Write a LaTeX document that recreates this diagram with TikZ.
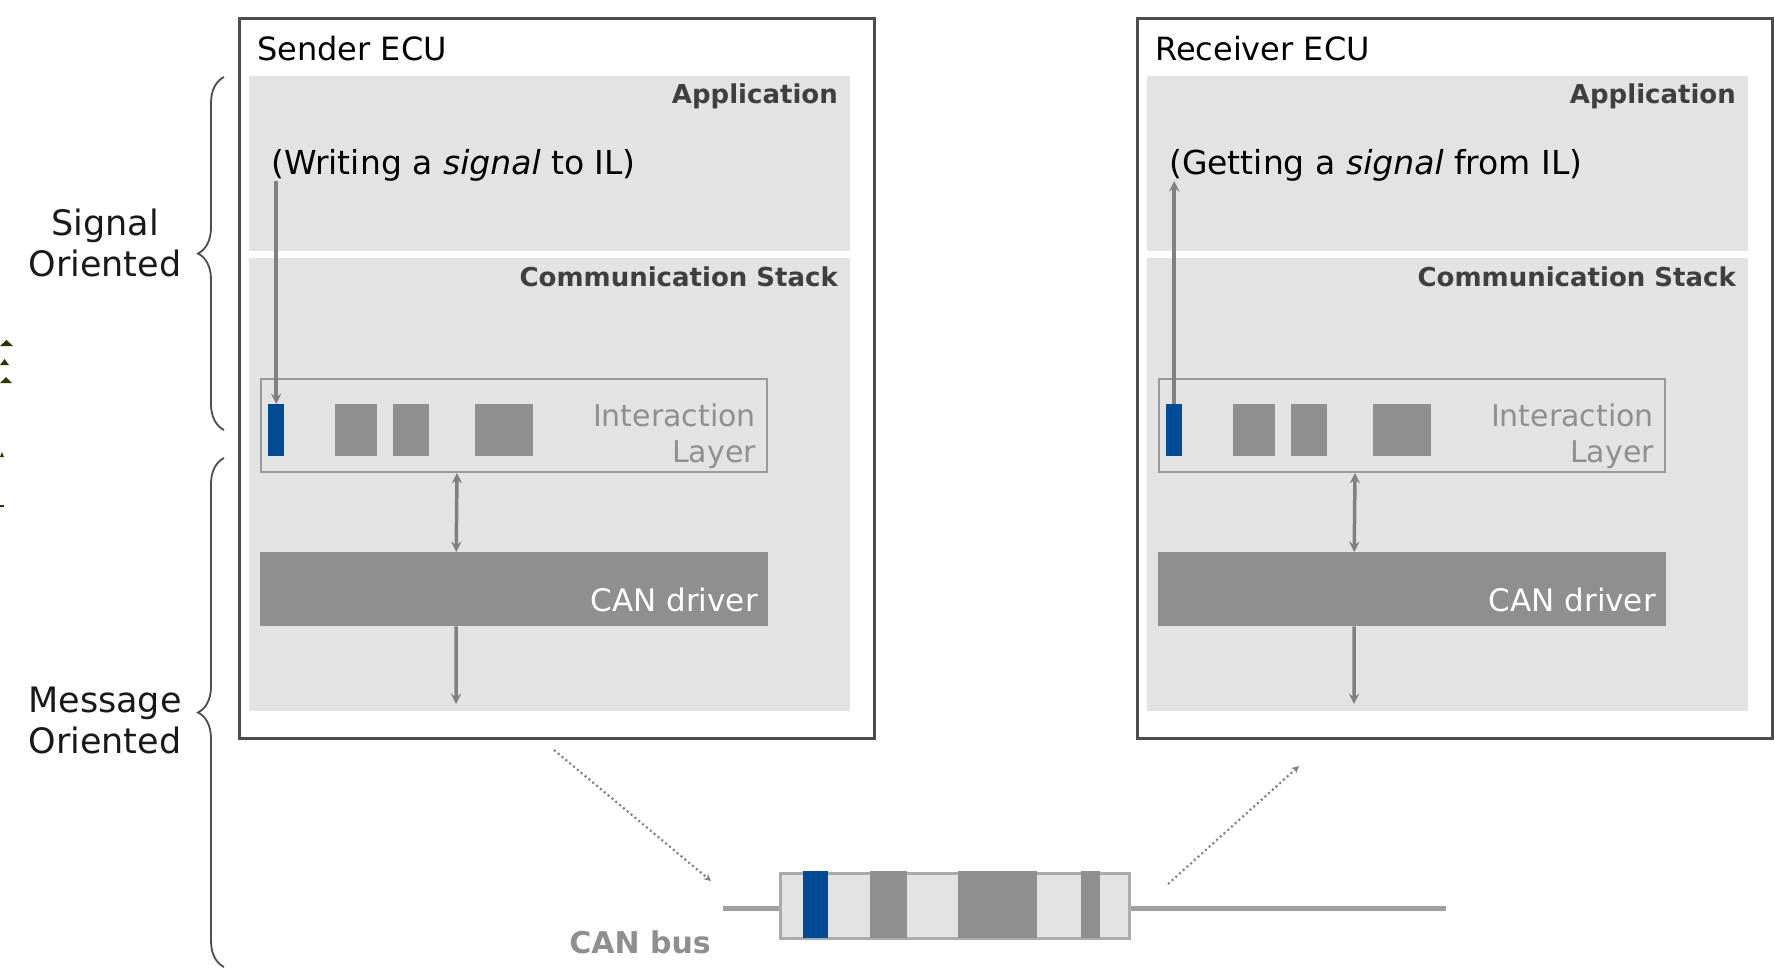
\documentclass[tikz,border=0pt]{standalone}
\usepackage{fontspec}
\setmainfont{DejaVu Sans}
\usetikzlibrary{decorations.pathreplacing}
\definecolor{panelgray}{HTML}{E3E3E3}
\definecolor{blockgray}{HTML}{8F8F8F}
\definecolor{sigblue}{HTML}{004B96}
\definecolor{linegray}{HTML}{808080}
\definecolor{framegray}{HTML}{4D4D4D}
\definecolor{textgray}{HTML}{3F3F3F}
\definecolor{specks}{HTML}{333300}
\tikzset{
  ecu/.style={draw=framegray,line width=2.5pt,anchor=north west,inner sep=0pt,minimum width=635pt,minimum height=720pt},
  panel/.style={fill=panelgray,anchor=north west,inner sep=0pt,minimum width=601pt},
  ilbox/.style={draw=blockgray!90,line width=2pt,anchor=north west,inner sep=0pt,minimum width=506pt,minimum height=93pt},
  block/.style={fill=blockgray,anchor=north west,inner sep=0pt,minimum height=52pt},
  drv/.style={fill=blockgray,anchor=north west,inner sep=0pt,minimum width=508pt,minimum height=74pt},
  title/.style={anchor=west,inner sep=0pt,font=\fontsize{32}{38}\selectfont},
  what/.style={anchor=west,inner sep=0pt,font=\fontsize{33}{38}\selectfont},
  layer/.style={anchor=east,inner sep=0pt,text=textgray,font=\bfseries\fontsize{26}{30}\selectfont},
  iltxt/.style={anchor=east,align=right,inner sep=0pt,text=blockgray,font=\fontsize{30}{36}\selectfont},
  drvtxt/.style={anchor=east,inner sep=0pt,text=white,font=\fontsize{31}{36}\selectfont},
  flow/.style={draw=linegray,line width=3.5pt},
  hop/.style={draw=linegray,line width=2.2pt,dash pattern=on 2pt off 3pt},
  curly/.style={decorate,decoration={brace,amplitude=26pt},draw=framegray,line width=1.8pt},
  side/.style={align=center,inner sep=0pt,text=black!90,font=\fontsize{35}{41}\selectfont}
}
\begin{document}
\begin{tikzpicture}[x=1pt,y=-1pt]
\useasboundingbox[fill=white] (0,0) rectangle (1774,970);
% the two ECUs
\foreach \e/\dx/\who/\what in {s/0/Sender/{(Writing a \textit{signal} to IL)},r/898/Receiver/{(Getting a \textit{signal} from IL)}}{
\begin{scope}[xshift=\dx pt]
\node[ecu] (\e-ecu) at (238,17) {};
\node[title] (\e-ttl) at (257,49) {\who\ ECU};
\node[panel,minimum height=175pt] (\e-app) at (249,76) {};
\node[panel,minimum height=453pt] (\e-com) at (249,258) {};
\node[layer] (\e-appl) at (838,96) {Application};
\node[layer] (\e-coml) at (838,277) {Communication Stack};
\node[what] (\e-txt) at (271,165) {\what};
\node[ilbox] (\e-il) at (260,378) {};
\node[block,fill=sigblue,minimum width=16pt] (\e-sig) at (268,404) {};
\node[block,minimum width=42pt] (\e-b1) at (335,404) {};
\node[block,minimum width=36pt] (\e-b2) at (393,404) {};
\node[block,minimum width=58pt] (\e-b3) at (475,404) {};
\node[iltxt] (\e-ilt) at (756,436) {Interaction\\Layer};
\node[drv] (\e-drv) at (260,552) {};
\node[drvtxt] (\e-drvt) at (758,600) {CAN driver};
\coordinate (\e-bot) at (456,704);
\draw[flow,stealth-stealth] ([xshift=-57pt]\e-il.south) -- ([xshift=-58pt]\e-drv.north);
\draw[flow,-stealth] ([xshift=-58pt]\e-drv.south) -- (\e-bot);
\end{scope}
}
\draw[flow,-stealth] (s-sig.north |- s-txt.south) -- (s-sig.north);
\draw[flow,-stealth] (r-sig.north) -- (r-sig.north |- r-txt.south);
% bus and frame
\coordinate (bus0) at (723,908);
\coordinate (bus1) at (1446,908);
\draw[draw=blockgray!85,line width=5pt] (bus0) -- (bus1);
\node[fill=panelgray,draw=blockgray!75,line width=2.5pt,anchor=north west,inner sep=0pt,minimum width=349pt,minimum height=65pt] (frm) at (779,872) {};
\foreach \a/\b/\c in {803/828/sigblue,870/907/blockgray,958/1037/blockgray,1081/1100/blockgray}
  \fill[\c] (\a,871) rectangle (\b,938);
\node[text=blockgray,font=\bfseries\fontsize{30}{34}\selectfont] (bus) at (640,942) {CAN bus};
\coordinate (tx0) at (554,750);
\coordinate (tx1) at (711,881);
\coordinate (rx0) at (1168,884);
\coordinate (rx1) at (1299,766);
\draw[hop,-stealth] (tx0) -- (tx1);
\draw[hop,-stealth] (rx0) -- (rx1);
% braces
\draw[curly] (224,430) -- (224,77);
\draw[curly] (224,967) -- (224,458);
\node[side] (sigtxt) at (105,243) {Signal\\Oriented};
\node[side] (msgtxt) at (105,720) {Message\\Oriented};
\foreach \y/\w in {346/13,365/9,383/12}
  \fill[specks] (0,\y) -- (\w/2,\y-6) -- (\w,\y) -- cycle;
\fill[specks] (0,457) -- (2,452) -- (4,457) -- cycle;
\fill[specks] (0,505) rectangle (4,507);
\end{tikzpicture}
\end{document}
